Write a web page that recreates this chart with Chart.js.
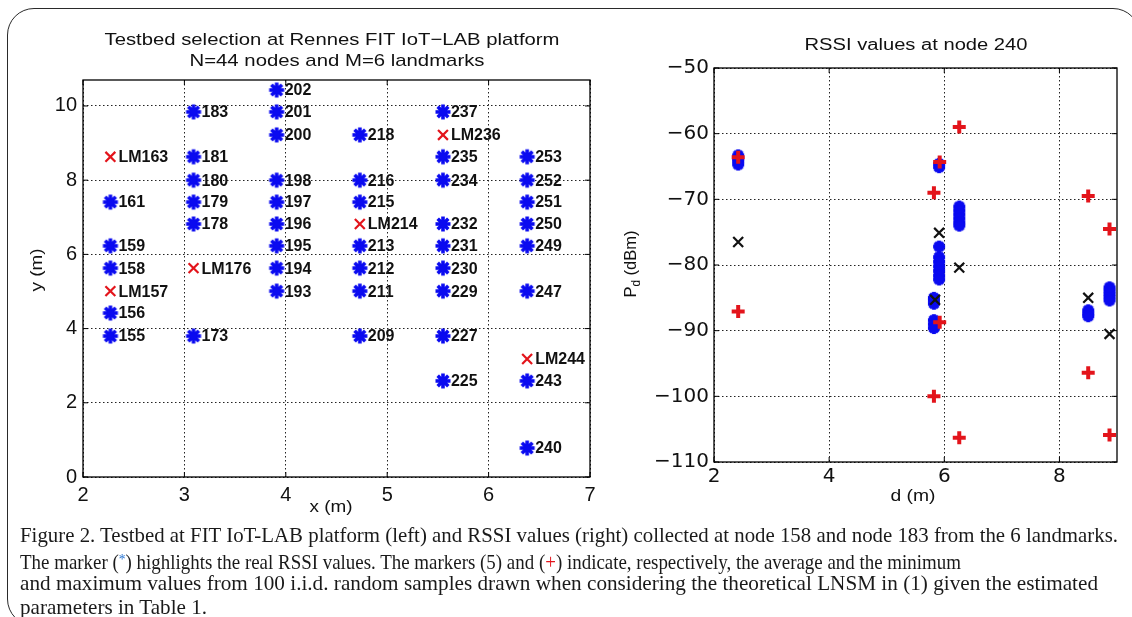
<!DOCTYPE html>
<html>
<head>
<meta charset="utf-8">
<script src="https://cdn.jsdelivr.net/npm/chart.js@4.4.1/dist/chart.umd.min.js"></script>
<style>
  html, body { margin: 0; padding: 0; background: #fff; width: 1132px; height: 617px; overflow: hidden; }
  #frame { position: absolute; left: 7px; top: 8px; width: 1133px; height: 618px; box-sizing: border-box;
           border: 1.3px solid #2a2a2a; border-radius: 27px; }
  canvas { position: absolute; left: 0; top: 0; }
  .cap { position: absolute; left: 20px; font-family: 'Liberation Serif', 'DejaVu Serif', serif; font-size: 21px;
         line-height: 24px; color: #1a1a1a; white-space: nowrap; transform-origin: 0 0; }
  .blue { color: #1f6fd0; font-size: 15px; vertical-align: 5px; }
  .red { color: #e3141b; }
</style>
</head>
<body>
<div id="frame"></div>
<canvas id="testbed" width="1132" height="617"></canvas>
<canvas id="rssi" width="1132" height="617"></canvas>

<div class="cap" id="cap1" style="top:523px">Figure 2. Testbed at FIT IoT-LAB platform (left) and RSSI values (right) collected at node 158 and node 183 from the 6 landmarks.</div>
<div class="cap" id="cap2" style="top:547px">The marker (<span class="blue">*</span>) highlights the real RSSI values. The markers (5) and (<span class="red">+</span>) indicate, respectively, the average and the minimum</div>
<div class="cap" id="cap3" style="top:571px">and maximum values from 100 i.i.d. random samples drawn when considering the theoretical LNSM in (1) given the estimated</div>
<div class="cap" id="cap4" style="top:595px">parameters in Table 1.</div>

<script>
// ---------- Testbed layout (metres) ----------
const nodeIds = ['202',
  '183', '201', '237',
  '200', '218',
  '181', '235', '253',
  '180', '198', '216', '234', '252',
  '161', '179', '197', '215', '251',
  '178', '196', '232', '250',
  '159', '195', '213', '231', '249',
  '158', '194', '212', '230',
  '193', '211', '229', '247',
  '156',
  '155', '173', '209', '227',
  '225', '243',
  '240'];
const nodeX = [3.91,
  3.09, 3.91, 5.55,
  3.91, 4.73,
  3.09, 5.55, 6.38,
  3.09, 3.91, 4.73, 5.55, 6.38,
  2.27, 3.09, 3.91, 4.73, 6.38,
  3.09, 3.91, 5.55, 6.38,
  2.27, 3.91, 4.73, 5.55, 6.38,
  2.27, 3.91, 4.73, 5.55,
  3.91, 4.73, 5.55, 6.38,
  2.27,
  2.27, 3.09, 4.73, 5.55,
  5.55, 6.38,
  6.38];
const nodeY = [10.43,
  9.84, 9.84, 9.84,
  9.22, 9.22,
  8.63, 8.63, 8.63,
  8.00, 8.00, 8.00, 8.00, 8.00,
  7.41, 7.41, 7.41, 7.41, 7.41,
  6.82, 6.82, 6.82, 6.82,
  6.23, 6.23, 6.23, 6.23, 6.23,
  5.63, 5.63, 5.63, 5.63,
  5.01, 5.01, 5.01, 5.01,
  4.42,
  3.80, 3.80, 3.80, 3.80,
  2.59, 2.59,
  0.78];
const landmarkIds = ['LM163', 'LM236', 'LM214', 'LM176', 'LM157', 'LM244'];
const landmarkX = [2.27, 5.55, 4.73, 3.09, 2.27, 6.38];
const landmarkY = [8.63, 9.22, 6.82, 5.63, 5.01, 3.18];
const testbedXTicks = [2, 3, 4, 5, 6, 7];
const testbedYTicks = [0, 2, 4, 6, 8, 10];

// ---------- RSSI at node 240: distance d (m) and power P_d (dBm) ----------
const rssiD = [2.42, 2.42, 2.42, 2.42,
  5.91, 5.91, 5.91, 5.91, 5.91, 5.91, 5.91, 5.91, 5.91,
  5.82, 5.82, 5.82, 5.82, 5.82, 5.82,
  6.26, 6.26, 6.26, 6.26, 6.26, 6.26,
  8.50, 8.50, 8.50,
  8.87, 8.87, 8.87, 8.87, 8.87];
const rssiP = [-63.3, -63.8, -64.2, -64.7,
  -64.6, -65.1, -77.2, -78.8, -79.5, -80.2, -80.9, -81.6, -82.2,
  -85.0, -85.4, -85.9, -88.4, -89.0, -89.6,
  -71.1, -71.7, -72.3, -72.9, -73.5, -74.0,
  -86.9, -87.4, -87.8,
  -83.4, -83.9, -84.4, -84.9, -85.4];
const meanD = [2.42, 5.91, 5.84, 6.26, 8.50, 8.87];
const meanP = [-76.5, -75.1, -85.3, -80.4, -85.0, -90.5];
const extremaD = [2.42, 2.42, 5.82, 5.82, 5.92, 5.92, 6.26, 6.26, 8.50, 8.50, 8.87, 8.87];
const extremaP = [-63.6, -87.1, -69.0, -100.0, -64.3, -88.7, -59.0, -106.3, -69.5, -96.4, -74.5, -105.9];
const rssiXTicks = [2, 4, 6, 8];
const rssiYTicks = [-110, -100, -90, -80, -70, -60, -50];

// ---------- styling ----------
const BLUE = '#0a0af0';
const RED = '#e3141b';
const W = 1132, H = 617;

const toPoints = (xs, ys) => xs.map((x, i) => ({ x, y: ys[i] }));
const minusLabel = v => (v < 0 ? '\u2212' + Math.abs(v) : String(v));

// heavy eight-armed asterisk used as the blue marker
function asterisk(size, arm, lw, core, color) {
  const c = document.createElement('canvas');
  c.width = c.height = size;
  const g = c.getContext('2d');
  const m = size / 2;
  g.strokeStyle = color; g.lineWidth = lw;
  for (let k = 0; k < 4; k++) {
    const a = k * Math.PI / 4;
    g.beginPath();
    g.moveTo(m - arm * Math.cos(a), m - arm * Math.sin(a));
    g.lineTo(m + arm * Math.cos(a), m + arm * Math.sin(a));
    g.stroke();
  }
  g.fillStyle = color;
  g.beginPath(); g.arc(m, m, core, 0, Math.PI * 2); g.fill();
  return c;
}

// framed box with inward ticks on all four sides
const boxFrame = {
  id: 'boxFrame',
  afterDraw(chart) {
    const { ctx, chartArea: a, scales } = chart;
    ctx.save();
    ctx.strokeStyle = '#000'; ctx.lineWidth = 1.3;
    ctx.strokeRect(a.left, a.top, a.right - a.left, a.bottom - a.top);
    ctx.lineWidth = 1;
    const L = 5;
    ctx.beginPath();
    scales.x.ticks.forEach(t => {
      const px = scales.x.getPixelForValue(t.value);
      ctx.moveTo(px, a.bottom); ctx.lineTo(px, a.bottom - L);
      ctx.moveTo(px, a.top); ctx.lineTo(px, a.top + L);
    });
    scales.y.ticks.forEach(t => {
      const py = scales.y.getPixelForValue(t.value);
      ctx.moveTo(a.left, py); ctx.lineTo(a.left + L, py);
      ctx.moveTo(a.right, py); ctx.lineTo(a.right - L, py);
    });
    ctx.stroke();
    ctx.restore();
  }
};

// node / landmark names next to their markers
const markLabels = {
  id: 'markLabels',
  afterDatasetsDraw(chart, args, opts) {
    const ctx = chart.ctx;
    ctx.save();
    ctx.font = opts.font; ctx.fillStyle = '#111'; ctx.textBaseline = 'middle';
    chart.data.datasets.forEach((ds, i) => {
      if (!ds.ids) return;
      chart.getDatasetMeta(i).data.forEach((pt, j) => ctx.fillText(ds.ids[j], pt.x + opts.dx, pt.y + 1));
    });
    ctx.restore();
  }
};

// titles and axis names, each fitted to its own width
const panelText = {
  id: 'panelText',
  afterDraw(chart, args, opts) {
    const ctx = chart.ctx;
    (opts.items || []).forEach(it => {
      const fam = it.family || "'Liberation Sans', Arial, sans-serif";
      const main = `${it.size}px ${fam}`;
      const sub = `${Math.round(it.size * 0.7)}px ${fam}`;
      const parts = it.parts || [{ t: it.text }];
      ctx.save();
      let w = 0;
      parts.forEach(p => { ctx.font = p.sub ? sub : main; p.w = ctx.measureText(p.t).width; w += p.w; });
      ctx.translate(it.x, it.y);
      if (it.rotate) ctx.rotate(it.rotate);
      if (it.width) ctx.scale(it.width / w, 1);
      ctx.fillStyle = '#111'; ctx.textBaseline = 'middle';
      let x = -w / 2;
      parts.forEach(p => {
        ctx.font = p.sub ? sub : main;
        ctx.fillText(p.t, x, p.sub ? it.size * 0.32 : 0);
        x += p.w;
      });
      ctx.restore();
    });
  }
};

function axis(min, max, tickValues, fit, font, pad) {
  return {
    type: 'linear', min, max,
    afterBuildTicks: s => { s.ticks = tickValues.map(v => ({ value: v })); },
    afterFit: fit,
    grid: { color: '#222', lineWidth: 1, drawTicks: false },
    border: { display: false, dash: [1.5, 2.5] },
    ticks: { color: '#111', font, padding: pad, callback: minusLabel, maxRotation: 0, autoSkip: false }
  };
}

// ---------- left: testbed ----------
new Chart(document.getElementById('testbed'), {
  type: 'scatter',
  data: {
    datasets: [
      { label: 'landmarks', data: toPoints(landmarkX, landmarkY), ids: landmarkIds,
        pointStyle: 'crossRot', radius: 7, borderColor: RED, borderWidth: 2.2 },
      { label: 'nodes', data: toPoints(nodeX, nodeY), ids: nodeIds,
        pointStyle: asterisk(18, 7.5, 3.6, 4.2, BLUE), radius: 7 }
    ]
  },
  options: {
    responsive: false, animation: false, events: [],
    layout: { padding: { left: 0, top: 80, right: W - 590, bottom: 0 } },
    plugins: {
      legend: { display: false }, tooltip: { enabled: false },
      markLabels: { font: "bold 16px 'Liberation Sans', Arial, sans-serif", dx: 8 },
      panelText: { items: [
        { text: 'Testbed selection at Rennes FIT IoT\u2212LAB platform', x: 332, y: 40, size: 17, width: 455 },
        { text: 'N=44 nodes and M=6 landmarks', x: 337, y: 61, size: 17, width: 295 },
        { text: 'x (m)', x: 331, y: 507, size: 17, width: 43 },
        { text: 'y (m)', x: 37, y: 270, size: 17, width: 43, rotate: -Math.PI / 2 }
      ] }
    },
    scales: {
      x: axis(2, 7, testbedXTicks, s => { s.height = H - 477; },
        { family: "'Liberation Sans', Arial, sans-serif", size: 20 }, 6),
      y: axis(0, 10.7, testbedYTicks, s => { s.width = 83; },
        { family: "'Liberation Sans', Arial, sans-serif", size: 20 }, 6)
    }
  },
  plugins: [boxFrame, markLabels, panelText]
});

// ---------- right: RSSI values ----------
new Chart(document.getElementById('rssi'), {
  type: 'scatter',
  data: {
    datasets: [
      { label: 'min / max', data: toPoints(extremaD, extremaP),
        pointStyle: 'cross', radius: 6.5, borderColor: RED, borderWidth: 4 },
      { label: 'average', data: toPoints(meanD, meanP),
        pointStyle: 'crossRot', radius: 7, borderColor: '#111', borderWidth: 2.2 },
      { label: 'measured', data: toPoints(rssiD, rssiP),
        pointStyle: asterisk(16, 6, 3.8, 5, BLUE), radius: 6 }
    ]
  },
  options: {
    responsive: false, animation: false, events: [],
    layout: { padding: { left: 0, top: 68, right: W - 1117, bottom: 0 } },
    plugins: {
      legend: { display: false }, tooltip: { enabled: false },
      panelText: { items: [
        { text: 'RSSI values at node 240', x: 916, y: 46, size: 16, width: 223 },
        { text: 'd (m)', x: 913, y: 496, size: 17, width: 45 },
        { parts: [{ t: 'P' }, { t: 'd', sub: true }, { t: ' (dBm)' }], x: 631, y: 264, size: 17, width: 67,
          rotate: -Math.PI / 2 }
      ] }
    },
    scales: {
      x: axis(2, 9, rssiXTicks, s => { s.height = H - 462; },
        { family: "'DejaVu Sans', sans-serif", size: 20 }, 3),
      y: axis(-110, -50, rssiYTicks, s => { s.width = 714; },
        { family: "'DejaVu Sans', sans-serif", size: 20 }, 5)
    }
  },
  plugins: [boxFrame, panelText]
});

// ---------- caption: stretch each line to its set width ----------
const captionWidths = { cap1: 1098, cap2: 941, cap3: 1078, cap4: 187 };
Object.keys(captionWidths).forEach(id => {
  const el = document.getElementById(id);
  const w = el.getBoundingClientRect().width;
  el.style.transform = `scaleX(${captionWidths[id] / w})`;
});
</script>
</body>
</html>
